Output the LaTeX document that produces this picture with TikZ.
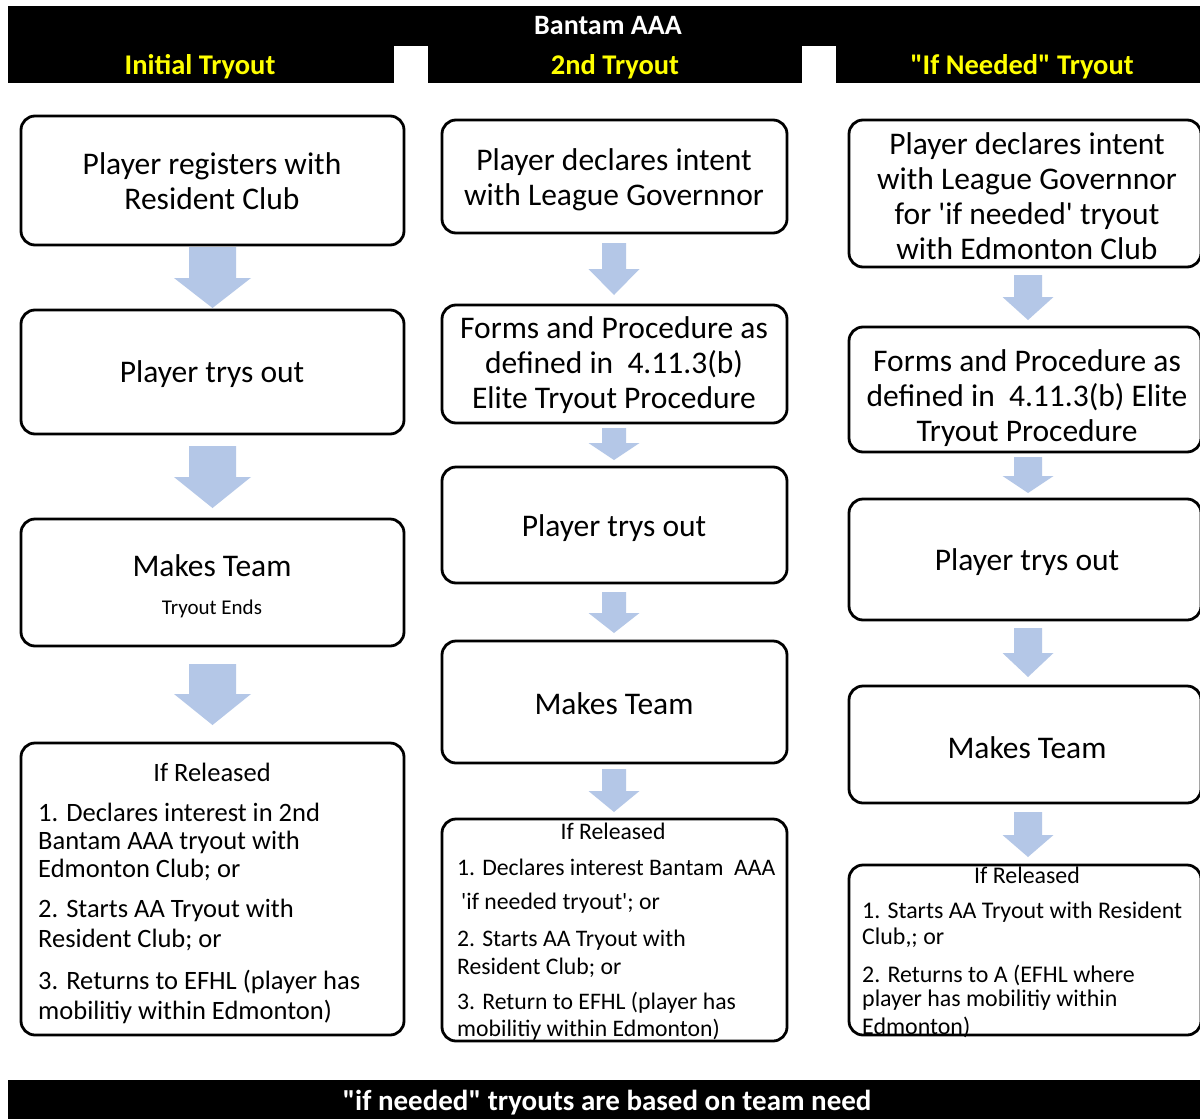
\documentclass[tikz,border=0pt]{standalone}
\usepackage{fontspec}
\setmainfont{Carlito}
\definecolor{arrowblue}{RGB}{180,199,231}
\definecolor{hdryellow}{RGB}{255,255,0}
\newcommand\fsz[2]{\fontsize{#1}{#2}\selectfont}
\newcommand\dnarrow[7]{% name, cx, shaft half, head half, top, head start, tip
  \fill[arrowfill] (#2-#3,#5) -- (#2+#3,#5) -- (#2+#3,#6) -- (#2+#4,#6) -- (#2,#7) coordinate (#1) -- (#2-#4,#6) -- (#2-#3,#6) -- cycle;}
\begin{document}
\begin{tikzpicture}[x=1pt,y=-1pt,
  flowbox/.style={draw=black, line width=2.8pt, rounded corners=14pt, inner sep=0pt, fill=white},
  maintext/.style={align=center, inner sep=0pt, font=\fsz{31.5}{35}},
  reltext/.style={anchor=west, inner sep=0pt},
  arrowfill/.style={fill=arrowblue},
  hdrtitle/.style={text=white, font=\bfseries\fsz{28}{30}, inner sep=0pt},
  hdrcol/.style={text=hdryellow, font=\bfseries\fsz{28.5}{30}, inner sep=0pt}]
\useasboundingbox (0,0) rectangle (1200,1119);
\fill[white] (0,0) rectangle (1200,1119);
% header band
\fill[black] (8,6) rectangle (1200,83);
\fill[white] (394,46) rectangle (428,83.5);
\fill[white] (802,46) rectangle (836,83.5);
\node[hdrtitle] (title) at (608,26) {Bantam AAA};
\node[hdrcol] (h1) at (200,66.5) {Initial Tryout};
\node[hdrcol] (h2) at (615,66.5) {2nd Tryout};
\node[hdrcol] (h3) at (1022,66.5) {\textquotedbl If Needed\textquotedbl\ Tryout};
% footer band
\fill[black] (8,1080) rectangle (1200,1119);
\node[hdrtitle, font=\bfseries\fsz{29}{31}] (foot) at (607,1102.5) {\textquotedbl if needed\textquotedbl\ tryouts are based on team need};

% column 1 boxes
\node[flowbox, minimum width=383pt, minimum height=129pt] (c1b1) at (212.5,180.5) {};
\node[flowbox, minimum width=383pt, minimum height=124pt] (c1b2) at (212.5,372) {};
\node[flowbox, minimum width=383pt, minimum height=127pt] (c1b3) at (212.5,582.5) {};
\node[flowbox, minimum width=383pt, minimum height=292pt] (c1b4) at (212.5,889) {};
% column 2 boxes
\node[flowbox, minimum width=345pt, minimum height=113pt] (c2b1) at (614.5,176.5) {};
\node[flowbox, minimum width=345pt, minimum height=118pt] (c2b2) at (614.5,364) {};
\node[flowbox, minimum width=345pt, minimum height=116pt] (c2b3) at (614.5,525) {};
\node[flowbox, minimum width=345pt, minimum height=122pt] (c2b4) at (614.5,702) {};
\node[flowbox, minimum width=345pt, minimum height=222pt] (c2b5) at (614.5,930) {};
% column 3 boxes
\node[flowbox, minimum width=352pt, minimum height=147pt] (c3b1) at (1025,193.5) {};
\node[flowbox, minimum width=352pt, minimum height=125pt] (c3b2) at (1025,389.5) {};
\node[flowbox, minimum width=352pt, minimum height=121pt] (c3b3) at (1025,559.5) {};
\node[flowbox, minimum width=352pt, minimum height=117pt] (c3b4) at (1025,744.5) {};
\node[flowbox, minimum width=352pt, minimum height=170pt] (c3b5) at (1025,950) {};

% arrows column 1
\dnarrow{a11}{212.5}{23.5}{38.5}{247}{278}{308}
\dnarrow{a12}{212.5}{23.5}{38.5}{446}{477}{508}
\dnarrow{a13}{212.5}{23.5}{38.5}{664}{694}{725}
% arrows column 2
\dnarrow{a21}{614}{12}{25.5}{243}{269}{295}
\dnarrow{a22}{614}{12}{25.5}{428}{443}{460}
\dnarrow{a23}{614}{12}{25.5}{592}{613}{633}
\dnarrow{a24}{614}{12}{25.5}{769}{791}{812}
% arrows column 3
\dnarrow{a31}{1028}{14}{25.5}{275}{297}{320}
\dnarrow{a32}{1028}{14}{25.5}{457}{476}{493}
\dnarrow{a33}{1028}{14}{25.5}{628}{653}{677}
\dnarrow{a34}{1028}{14}{25.5}{812}{835}{857}

% texts column 1
\node[maintext] (t11) at (212,181.5) {Player registers with\\Resident Club};
\node[maintext] (t12) at (212,374) {Player trys out};
\node[maintext] (t13) at (212,566) {Makes Team};
\node[inner sep=0pt, font=\fsz{21}{24}] (t13b) at (212,609) {Tryout Ends};
\node[inner sep=0pt, font=\fsz{26.5}{30}] (t14) at (212,772) {If Released};
\begin{scope}[font=\fsz{26.5}{30}]
\node[reltext] (r11) at (38,812) {1. Declares interest in 2nd};
\node[reltext] (r12) at (38,842) {Bantam AAA tryout with};
\node[reltext] (r13) at (38,870) {Edmonton Club; or};
\node[reltext] (r14) at (38,910) {2. Starts AA Tryout with};
\node[reltext] (r15) at (38,940) {Resident Club; or};
\node[reltext] (r16) at (38,982) {3. Returns to EFHL (player has};
\node[reltext] (r17) at (38,1012) {mobilitiy within Edmonton)};
\end{scope}

% texts column 2
\node[maintext] (t21) at (614,180) {Player declares intent\\with League Governnor};
\node[maintext] (t22) at (614,365.5) {Forms and Procedure as\\defined in~~4.11.3(b)\\Elite Tryout Procedure};
\node[maintext] (t23) at (614,528) {Player trys out};
\node[maintext] (t24) at (614,704) {Makes Team};
\begin{scope}[font=\fsz{23.7}{27}]
\node[inner sep=0pt] (t25) at (613,831) {If Released};
\node[reltext] (r21) at (457,867) {1. Declares interest Bantam~~AAA};
\node[reltext] (r22) at (461,903) {\textquotesingle if needed tryout\textquotesingle; or};
\node[reltext] (r23) at (457,940) {2. Starts AA Tryout with};
\node[reltext] (r24) at (457,968) {Resident Club; or};
\node[reltext] (r25) at (457,1003) {3. Return to EFHL (player has};
\node[reltext] (r26) at (457,1030) {mobilitiy within Edmonton)};
\end{scope}

% texts column 3
\node[maintext] (t31) at (1027,196.5) {Player declares intent\\with League Governnor\\for \textquotesingle if needed\textquotesingle\ tryout\\with Edmonton Club};
\node[maintext] (t32) at (1027,398) {Forms and Procedure as\\defined in~~4.11.3(b) Elite\\Tryout Procedure};
\node[maintext] (t33) at (1027,562.5) {Player trys out};
\node[maintext] (t34) at (1027,747.5) {Makes Team};
\begin{scope}[font=\fsz{23.9}{27}]
\node[inner sep=0pt] (t35) at (1027,875) {If Released};
\node[reltext] (r31) at (862,912) {1. Starts AA Tryout with Resident};
\node[reltext] (r32) at (862,938) {Club,; or};
\node[reltext] (r33) at (862,975) {2. Returns to A (EFHL where};
\node[reltext] (r34) at (862,1000) {player has mobilitiy within};
\node[reltext] (r35) at (862,1027) {Edmonton)};
\end{scope}
\end{tikzpicture}
\end{document}
